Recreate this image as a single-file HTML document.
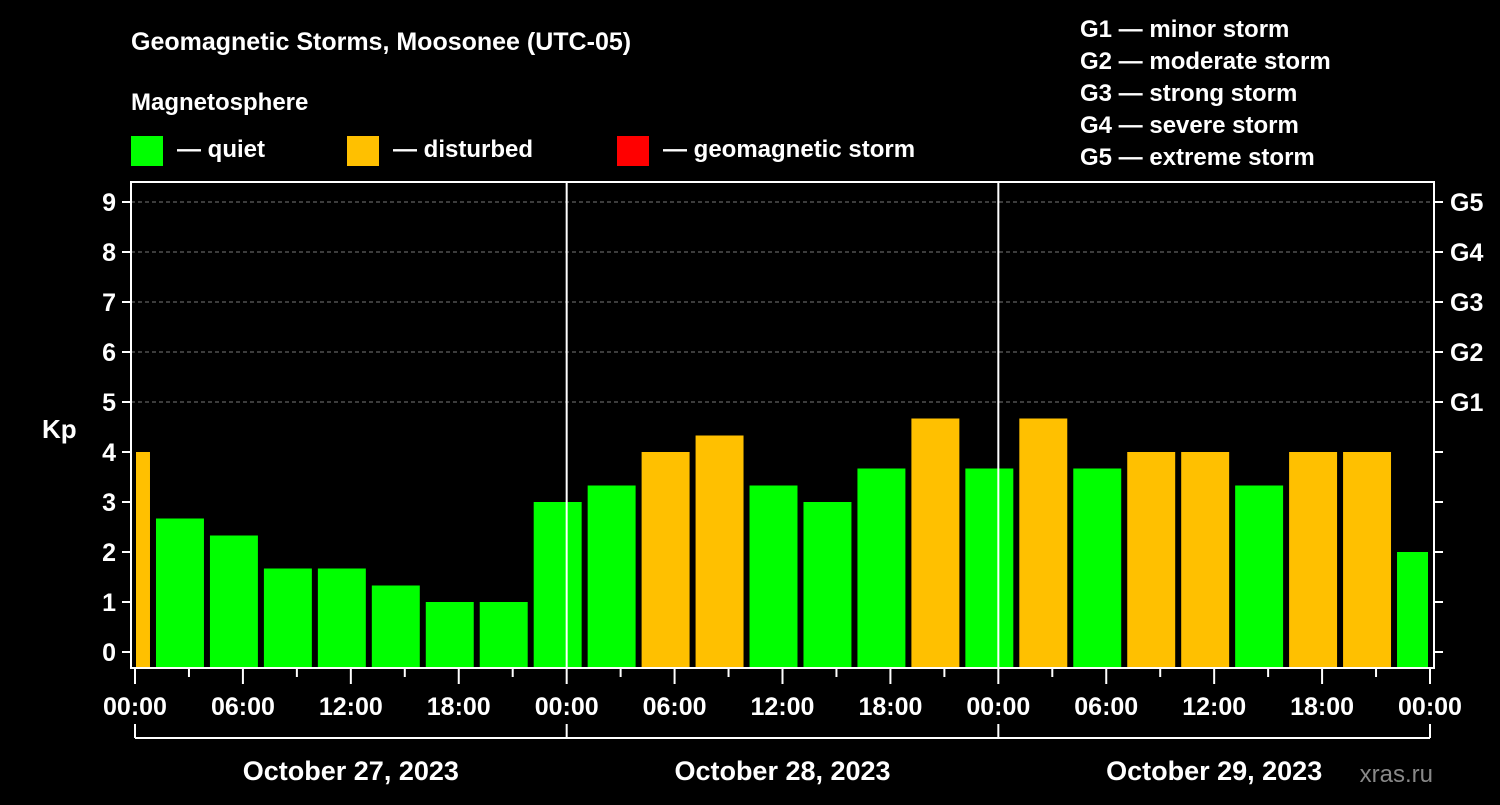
<!DOCTYPE html>
<html><head><meta charset="utf-8"><style>
body{margin:0;background:#000;width:1500px;height:800px;overflow:hidden}
svg text{font-family:"Liberation Sans",sans-serif;font-weight:bold;fill:#fff}
</style></head><body>
<svg id="c" width="1500" height="800" xmlns="http://www.w3.org/2000/svg">
<text x="131" y="50" font-size="25">Geomagnetic Storms, Moosonee (UTC-05)</text>
<text x="131" y="110" font-size="24">Magnetosphere</text>
<g><rect x="131" y="136" width="32" height="30" fill="#00ff00"/><text x="177" y="157" font-size="24">— quiet</text></g>
<g><rect x="347" y="136" width="32" height="30" fill="#ffc000"/><text x="393" y="157" font-size="24">— disturbed</text></g>
<g><rect x="617" y="136" width="32" height="30" fill="#ff0000"/><text x="663" y="157" font-size="24">— geomagnetic storm</text></g>
<g font-size="24">
<text x="1080" y="37">G1 — minor storm</text><text x="1080" y="69">G2 — moderate storm</text><text x="1080" y="101">G3 — strong storm</text><text x="1080" y="133">G4 — severe storm</text><text x="1080" y="165">G5 — extreme storm</text>
</g>
<text x="42" y="438" font-size="26">Kp</text>
<text x="1433" y="782" font-size="24" text-anchor="end" fill="#888" style="fill:#888;font-weight:normal">xras.ru</text>
<g id="plot"></g>
</svg>
<script>
const kpValues=[4.0,2.67,2.33,1.67,1.67,1.33,1.0,1.0,3.0,3.33,4.0,4.33,3.33,3.0,3.67,4.67,3.67,4.67,3.67,4.0,4.0,3.33,4.0,4.0,2.0];
const startHour=-2; // first bar begins 22:00 previous day (local)
const yTicks=[0,1,2,3,4,5,6,7,8,9];
const gLabels=["G1","G2","G3","G4","G5"];
const xTickLabels=["00:00","06:00","12:00","18:00","00:00","06:00","12:00","18:00","00:00","06:00","12:00","18:00","00:00"];
const dayLabels=["October 27, 2023","October 28, 2023","October 29, 2023"];
const X0=135,X1=1430,L=131,R=1434,TOP=182,BOT=668,HOURS=72;
const x=h=>X0+(X1-X0)*h/HOURS;
const y=v=>652-50*v;
const NS="http://www.w3.org/2000/svg",g=document.getElementById('plot');
function mk(t,a){const e=document.createElementNS(NS,t);for(const k in a)e.setAttribute(k,a[k]);g.appendChild(e);return e;}
// grid
yTicks.forEach(v=>{if(v>=5){const e=mk('line',{x1:L,x2:R,y1:y(v),y2:y(v),stroke:'#777','stroke-dasharray':'4,3'});

}});
// bars
kpValues.forEach((v,i)=>{let h0=startHour+3*i,a=Math.max(x(h0)+3,X0+1),b=Math.min(x(h0+3)-3,X1-2);
const e=mk('rect',{x:a,y:y(v),width:b-a,height:BOT-y(v),fill:v>=5?'#ff0000':(v>=4?'#ffc000':'#00ff00')});

});
// day separators
[24,48].forEach(h=>{const e=mk('line',{x1:x(h),x2:x(h),y1:TOP,y2:BOT,stroke:'#fff','stroke-width':2});

});
// frame
const fr=mk('rect',{x:L,y:TOP,width:R-L,height:BOT-TOP,fill:'none',stroke:'#fff','stroke-width':2});


// y ticks
yTicks.forEach(v=>{mk('line',{x1:L-9,x2:L,y1:y(v),y2:y(v),stroke:'#fff','stroke-width':2});
mk('line',{x1:R,x2:R+9,y1:y(v),y2:y(v),stroke:'#fff','stroke-width':2});
const t=mk('text',{x:116,y:y(v)+9,'font-size':25,'text-anchor':'end'});t.textContent=v;

});
gLabels.forEach((s,i)=>{const t=mk('text',{x:1450,y:y(5+i)+9,'font-size':25});t.textContent=s;

});
// x ticks
for(let h=0;h<=HOURS;h+=3){mk('line',{x1:x(h),x2:x(h),y1:BOT,y2:BOT+(h%6?9:16),stroke:'#fff','stroke-width':2});}
xTickLabels.forEach((s,i)=>{const t=mk('text',{x:x(6*i),y:715,'font-size':25,'text-anchor':'middle'});t.textContent=s;

});
// date bracket
mk('line',{x1:X0,x2:X1,y1:738,y2:738,stroke:'#fff','stroke-width':2});
[0,24,48,72].forEach(h=>mk('line',{x1:x(h),x2:x(h),y1:724,y2:738,stroke:'#fff','stroke-width':2}));
dayLabels.forEach((s,i)=>{const t=mk('text',{x:x(24*i+12),y:780,'font-size':27,'text-anchor':'middle'});t.textContent=s;

});
</script>
</body></html>
